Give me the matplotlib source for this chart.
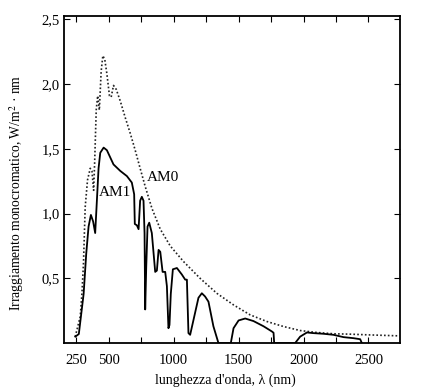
import matplotlib
matplotlib.use("Agg")
import matplotlib.pyplot as plt
import numpy as np

# AM0 (extraterrestrial) spectrum, dotted
am0_nm = [242, 255, 281, 294, 306, 319, 337, 358, 371, 384, 392, 404, 415, 428, 442,
          455, 470, 486, 506, 519, 537, 558, 589, 628, 666, 704, 742, 781, 833,
          897, 974, 1076, 1204, 1332, 1461, 1589, 1717, 1846, 1974, 2102, 2231,
          2359, 2487, 2731]
am0_val = [0.05, 0.10, 0.205, 0.385, 0.62, 1.05, 1.26, 1.35, 1.33, 1.18, 1.40, 1.80, 1.91,
           1.80, 2.10, 2.22, 2.19, 2.08, 1.91, 1.90, 1.99, 1.96, 1.87, 1.74, 1.62,
           1.49, 1.35, 1.21, 1.04, 0.88, 0.75, 0.63, 0.50, 0.385, 0.295, 0.218,
           0.167, 0.128, 0.097, 0.082, 0.072, 0.069, 0.064, 0.056]

# AM1 (ground level) spectrum, solid
am1_nm = [243, 270, 307, 327, 345, 363, 380, 396, 409, 422, 435, 461, 486, 537, 589,
          640, 678, 696, 701, 717, 730, 742, 755, 768, 776, 781, 789, 799, 812, 832,
          858, 871, 884, 897, 915, 935, 948, 960, 968, 978, 994, 1025, 1063, 1089,
          1102, 1114, 1127, 1153, 1191, 1217, 1242, 1268, 1306, 1345,
          1440, 1461, 1500, 1551, 1615, 1692, 1756, 1769, 1774,
          1935, 1974, 2026, 2077, 2153, 2230, 2308, 2385, 2436, 2449]
am1_val = [0.05, 0.07, 0.38, 0.69, 0.90, 0.99, 0.94, 0.85, 1.10, 1.35, 1.47, 1.51, 1.49,
           1.38, 1.33, 1.29, 1.24, 1.15, 0.92, 0.91, 0.88, 1.10, 1.13, 1.10, 0.85,
           0.26, 0.59, 0.90, 0.93, 0.85, 0.55, 0.56, 0.72, 0.705, 0.55, 0.55, 0.44,
           0.115, 0.14, 0.38, 0.57, 0.58, 0.53, 0.49, 0.49, 0.077, 0.064, 0.18,
           0.35, 0.385, 0.36, 0.32, 0.13, 0.0,
           0.0, 0.115, 0.175, 0.19, 0.17, 0.13, 0.09, 0.08, 0.0,
           0.0, 0.05, 0.082, 0.077, 0.072, 0.064, 0.046, 0.038, 0.03, 0.0]

x_ticks = [250, 500, 750, 1000, 1250, 1500, 1750, 2000, 2250, 2500]
x_labels = ["250", "500", "", "1000", "", "1500", "", "2000", "", "2500"]
y_ticks = [0.5, 1.0, 1.5, 2.0, 2.5]
y_labels = ["0,5", "1,0", "1,5", "2,0", "2,5"]

plt.rcParams['font.family'] = ['Liberation Serif', 'DejaVu Serif']
plt.rcParams['mathtext.fontset'] = 'stix'

fig = plt.figure(figsize=(4.22, 3.89), dpi=100)
ax = fig.add_axes([0.152, 0.118, 0.796, 0.842])

ax.plot(am0_nm, am0_val, color='#222222', lw=1.2, linestyle=(0, (1, 1.3)))
ax.plot(am1_nm, am1_val, color='black', lw=1.3)

ax.text(914, 1.28, "AM0", fontsize=11, ha='center', va='center')
ax.text(550, 1.16, "AM1", fontsize=11, ha='center', va='center')

ax.set_xlim(157, 2743)
ax.set_ylim(0, 2.53)
ax.set_xticks(x_ticks)
ax.set_xticklabels(x_labels)
ax.set_yticks(y_ticks)
ax.set_yticklabels(y_labels)
ax.tick_params(direction='in', length=4, width=0.8, top=True, right=True,
               labelsize=10.5)
ax.tick_params(axis='x', pad=8)
ax.tick_params(axis='y', pad=3)
for s in ax.spines.values():
    s.set_linewidth(1.3)

ax.set_xlabel("lunghezza d'onda, λ (nm)", fontsize=10)
ax.set_ylabel("Irraggiamento monocromatico, W/m$^2$ · nm", fontsize=9.8)
ax.xaxis.set_label_coords(0.48, -0.092)
ax.yaxis.set_label_coords(-0.115, 0.46)

fig.savefig("out.png", dpi=100)
